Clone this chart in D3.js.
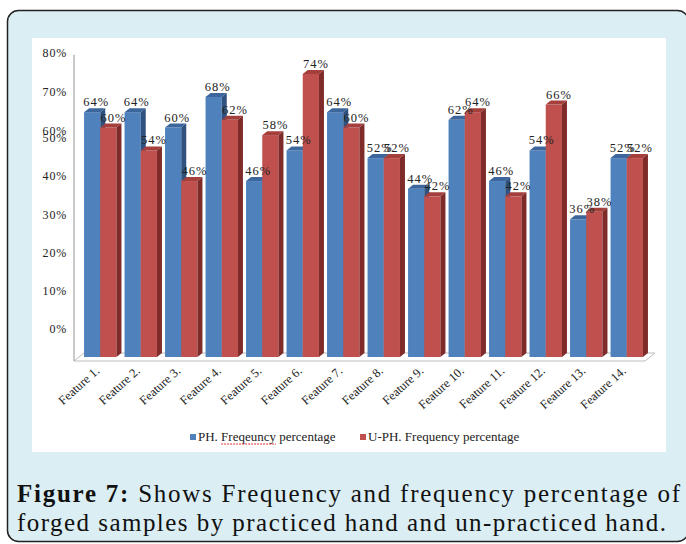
<!DOCTYPE html>
<html>
<head>
<meta charset="utf-8">
<script src="https://cdn.jsdelivr.net/npm/d3@7"></script>
<style>
  body { margin: 0; background: #fff; }
  svg { display: block; }
</style>
</head>
<body>
<div id="chart"></div>
<script>
// data
var features = ["Feature 1.", "Feature 2.", "Feature 3.", "Feature 4.", "Feature 5.", "Feature 6.", "Feature 7.",
                "Feature 8.", "Feature 9.", "Feature 10.", "Feature 11.", "Feature 12.", "Feature 13.", "Feature 14."];
var phValues  = [64, 64, 60, 68, 46, 54, 64, 52, 44, 62, 46, 54, 36, 52];
var uphValues = [60, 54, 46, 62, 58, 74, 60, 52, 42, 64, 42, 66, 38, 52];
var seriesNames = ["PH. Freqeuncy percentage", "U-PH. Frequency percentage"];
var tickValues = [0, 10, 20, 30, 40, 50, 60, 70, 80];
var captionBold = "Figure 7:";
var captionLine1 = " Shows Frequency and frequency percentage of";
var captionLine2 = "forged samples by practiced hand and un-practiced hand.";

var width = 686, height = 544;
var serif = "'Liberation Serif', 'Times New Roman', serif";

var svg = d3.select("#chart").append("svg")
  .attr("width", width)
  .attr("height", height);

// figure frame
svg.append("rect")
  .attr("x", 7.5).attr("y", 10.5)
  .attr("width", 681).attr("height", 531)
  .attr("rx", 11)
  .attr("fill", "#daeef3")
  .attr("stroke", "#222")
  .attr("stroke-width", 1.5);

svg.append("rect")
  .attr("x", 32).attr("y", 38)
  .attr("width", 634).attr("height", 414)
  .attr("fill", "#fff");

// scales
var y = d3.scaleLinear().domain([0, 80]).range([357, 51]);
var x = d3.scaleBand().domain(features).range([80, 647]).paddingInner(0.2).paddingOuter(0.1);
var half = x.bandwidth() / 2;
var dx = 5, dy = 4;

// the tick labels of the original sit off the bar scale for 0-50%
var lowShift = 7.3;
var yLabel = d3.scaleLinear()
  .domain([0, 50, 60, 80])
  .range([y(0 + lowShift), y(50 + lowShift), y(59.1), y(79.5)]);

// floor
var x0 = 74, x1 = 645;
svg.append("path")
  .attr("d", "M" + x0 + "," + (y(0) + 4) + "L" + x1 + "," + (y(0) + 4) +
             "L" + (x1 + 10) + "," + (y(0) - 4) + "L" + (x0 + 10) + "," + (y(0) - 4) + "Z")
  .attr("fill", "#fff")
  .attr("stroke", "#bdbdbd")
  .attr("stroke-width", 1);

// value axis line
svg.append("line")
  .attr("x1", x0).attr("x2", x0)
  .attr("y1", y(79)).attr("y2", y(0) + 4)
  .attr("stroke", "#a6a6a6")
  .attr("stroke-width", 1.2);

var yAxis = svg.append("g")
  .attr("transform", "translate(67,0)")
  .call(d3.axisLeft(yLabel).tickValues(tickValues).tickSize(0).tickPadding(0)
        .tickFormat(function(d){ return d + "%"; }));
yAxis.select(".domain").remove();
yAxis.selectAll("text")
  .attr("font-family", serif)
  .attr("font-size", 12)
  .attr("letter-spacing", 0.8)
  .attr("fill", "#222");

var colors = [
  {front: "#4f81bd", top: "#3c669c", side: "#2f5281"},
  {front: "#c0504d", top: "#a43f3c", side: "#7e2b29"}
];

function drawBar(g, bx, w, v, c) {
  var yt = y(v), yb = y(0);
  g.append("rect")
    .attr("x", bx).attr("y", yt)
    .attr("width", w).attr("height", yb - yt)
    .attr("fill", c.front);
  g.append("path")
    .attr("d", "M" + bx + "," + yt + "L" + (bx + dx) + "," + (yt - dy) +
               "L" + (bx + w + dx) + "," + (yt - dy) + "L" + (bx + w) + "," + yt + "Z")
    .attr("fill", c.top);
  g.append("path")
    .attr("d", "M" + (bx + w) + "," + yt + "L" + (bx + w + dx) + "," + (yt - dy) +
               "L" + (bx + w + dx) + "," + (yb - dy) + "L" + (bx + w) + "," + yb + "Z")
    .attr("fill", c.side);
}

var bars = svg.append("g");
features.forEach(function(f, i){
  drawBar(bars, x(f), half, phValues[i], colors[0]);
  drawBar(bars, x(f) + half, half, uphValues[i], colors[1]);
});

// value labels
var labels = svg.append("g")
  .attr("font-family", serif)
  .attr("font-size", 12.5)
  .attr("letter-spacing", 1)
  .attr("fill", "#222")
  .attr("text-anchor", "middle");
features.forEach(function(f, i){
  labels.append("text")
    .attr("x", x(f) + half / 2 + 4)
    .attr("y", y(phValues[i]) - 6)
    .text(phValues[i] + "%");
  labels.append("text")
    .attr("x", x(f) + half * 1.5 + 5)
    .attr("y", y(uphValues[i]) - 6)
    .text(uphValues[i] + "%");
});

// category labels
svg.append("g").selectAll("text").data(features).enter().append("text")
  .attr("transform", function(d){
    return "translate(" + (x(d) + half) + "," + (y(0) + 15) + ") rotate(-42)";
  })
  .attr("text-anchor", "end")
  .attr("font-family", serif)
  .attr("font-size", 12.5)
  .attr("fill", "#222")
  .text(function(d){ return d; });

// legend
var legend = svg.append("g")
  .attr("font-family", serif)
  .attr("font-size", 13)
  .attr("fill", "#222");
var legendX = [190, 360];
seriesNames.forEach(function(name, i){
  legend.append("rect")
    .attr("x", legendX[i]).attr("y", 434)
    .attr("width", 6).attr("height", 6)
    .attr("fill", colors[i].front);
  var t = legend.append("text")
    .attr("x", legendX[i] + 8).attr("y", 441)
    .text(name);
  var k = name.indexOf("Freqeuncy");
  if (k >= 0) {
    var node = t.node();
    var s = node.getStartPositionOfChar(k).x;
    var e = node.getEndPositionOfChar(k + 8).x;
    legend.append("line")
      .attr("x1", s).attr("x2", e)
      .attr("y1", 444).attr("y2", 444)
      .attr("stroke", "#e03030")
      .attr("stroke-width", 1)
      .attr("stroke-dasharray", "2,1");
  }
});

// caption
var cap = svg.append("g")
  .attr("font-family", serif)
  .attr("font-size", 25)
  .attr("fill", "#111");
var l1 = cap.append("text")
  .attr("x", 17).attr("y", 502)
  .attr("textLength", 663)
  .attr("lengthAdjust", "spacing");
l1.append("tspan").attr("font-weight", "bold").text(captionBold);
l1.append("tspan").text(captionLine1);
cap.append("text")
  .attr("x", 17).attr("y", 531)
  .attr("textLength", 649)
  .attr("lengthAdjust", "spacing")
  .text(captionLine2);
</script>
</body>
</html>
